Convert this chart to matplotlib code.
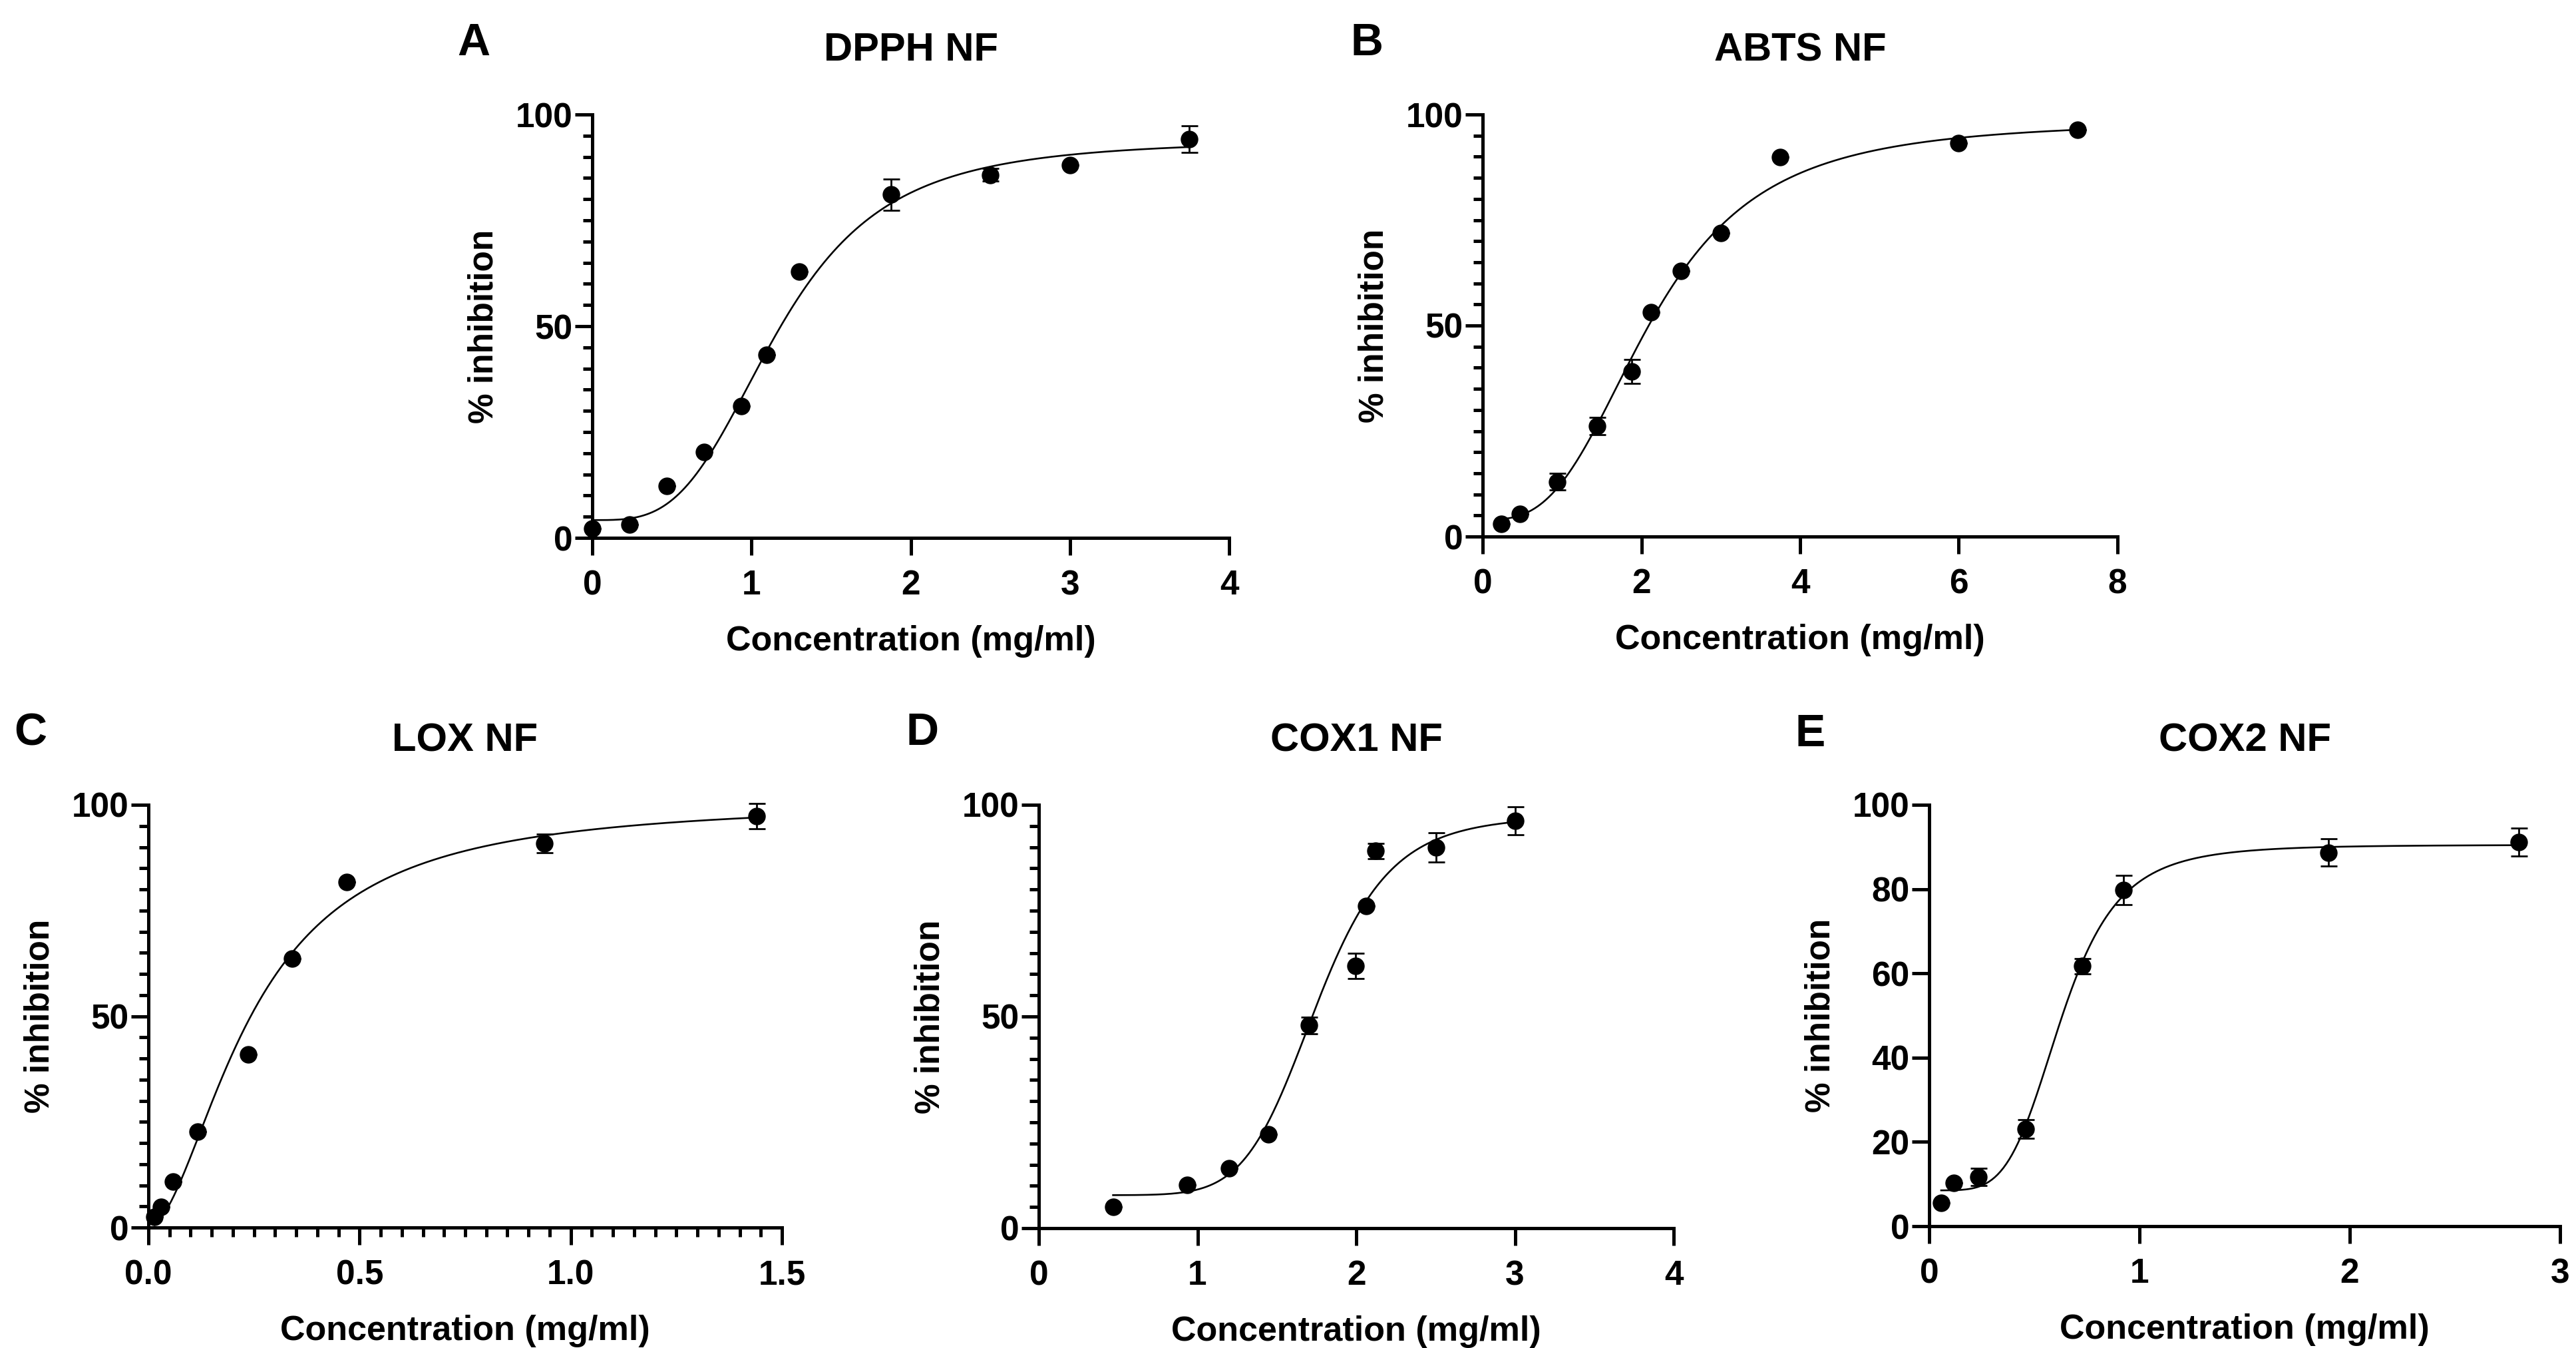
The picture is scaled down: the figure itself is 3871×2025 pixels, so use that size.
import matplotlib
matplotlib.use("Agg")
import matplotlib.pyplot as plt
import numpy as np
from matplotlib.ticker import MultipleLocator, FormatStrFormatter

plt.rcParams["font.family"] = ["Liberation Sans", "DejaVu Sans"]
plt.rcParams["font.weight"] = "bold"

# ---- data (mean, SEM) ----
dpph_x = [0, 0.234, 0.469, 0.703, 0.938, 1.094, 1.3, 1.875, 2.5, 3.0, 3.75]
dpph_y = [2.2, 3.2, 12.3, 20.3, 31.2, 43.2, 62.9, 81.1, 85.7, 88.0, 94.2]
dpph_err = [0, 0, 0, 0, 0, 0, 0, 3.7, 1.5, 0, 3.1]
dpph_fit = [4.2, 94.0, 1.17, 3.4]  # bottom, top, EC50, hill

abts_x = [0.234, 0.469, 0.938, 1.44, 1.875, 2.12, 2.5, 3.0, 3.75, 6.0, 7.5]
abts_y = [3.0, 5.4, 13.0, 26.2, 39.1, 53.2, 62.9, 72.0, 89.9, 93.2, 96.3]
abts_err = [0, 0, 2.0, 2.0, 2.8, 0, 0, 0, 0, 0, 0]
abts_fit = [4.0, 98.5, 2.13, 3.0]

lox_x = [0.0146, 0.0293, 0.0586, 0.117, 0.237, 0.34, 0.469, 0.9375, 1.44]
lox_y = [2.5, 4.9, 10.8, 22.7, 40.9, 63.7, 81.8, 90.9, 97.3]
lox_err = [0, 0, 0, 0, 0, 0, 0, 2.2, 3.0]
lox_fit = [0.0, 101.0, 0.245, 1.8]

cox1_x = [0.468, 0.936, 1.198, 1.446, 1.701, 1.995, 2.061, 2.12, 2.505, 3.0]
cox1_y = [5.1, 10.2, 14.2, 22.2, 47.9, 61.9, 76.1, 89.1, 89.9, 96.3]
cox1_err = [0, 0, 0, 0, 2.0, 3.0, 0, 1.8, 3.5, 3.3]
cox1_fit = [7.8, 97.5, 1.75, 7.5]

cox2_x = [0.057, 0.117, 0.234, 0.458, 0.728, 0.923, 1.90, 2.805]
cox2_y = [5.6, 10.2, 11.7, 23.0, 61.7, 79.8, 88.7, 91.2]
cox2_err = [0, 0, 2.0, 2.2, 1.8, 3.5, 3.2, 3.3]
cox2_fit = [8.5, 90.5, 0.63, 4.6]

titles = ["DPPH NF", "ABTS NF", "LOX NF", "COX1 NF", "COX2 NF"]
letters = ["A", "B", "C", "D", "E"]


def hill(x, p):
    b, t, ec, h = p
    return b + (t - b) * x ** h / (ec ** h + x ** h)


W, H = 3871, 2025
fig = plt.figure(figsize=(W / 100, H / 100), dpi=100)

# left, right, top, bottom in pixels, letter position, x range, x step, x minor, y step, y minor, x format
panels = [
    (dpph_x, dpph_y, dpph_err, dpph_fit, (890, 1847, 172, 808), (687, 83), 4, 1, None, 50, 5, "%d"),
    (abts_x, abts_y, abts_err, abts_fit, (2228, 3182, 172, 806), (2029, 83), 8, 2, None, 50, 5, "%d"),
    (lox_x, lox_y, lox_err, lox_fit, (223, 1175, 1209, 1844), (21, 1119), 1.5, 0.5, 0.05, 50, 5, "%.1f"),
    (cox1_x, cox1_y, cox1_err, cox1_fit, (1561, 2515, 1209, 1845), (1362, 1119), 4, 1, None, 50, 5, "%d"),
    (cox2_x, cox2_y, cox2_err, cox2_fit, (2899, 3847, 1209, 1842), (2698, 1121), 3, 1, None, 20, None, "%d"),
]

for i, (x, y, err, fit, box, lpos, xmax, xstep, xminor, ystep, yminor, xfmt) in enumerate(panels):
    l, r, t, b = box
    ax = fig.add_axes([l / W, 1 - b / H, (r - l) / W, (b - t) / H])

    xs = np.linspace(min(x), max(x), 400)
    ax.plot(xs, hill(xs, fit), color="black", lw=1.9, zorder=2)
    ax.errorbar(x, y, yerr=err, fmt="o", color="black", ms=18, capsize=9,
                elinewidth=2, capthick=2, clip_on=False, zorder=3)

    ax.set_xlim(0, xmax)
    ax.set_ylim(0, 100)
    ax.xaxis.set_major_locator(MultipleLocator(xstep))
    ax.xaxis.set_major_formatter(FormatStrFormatter(xfmt))
    ax.yaxis.set_major_locator(MultipleLocator(ystep))
    if xminor:
        ax.xaxis.set_minor_locator(MultipleLocator(xminor))
    if yminor:
        ax.yaxis.set_minor_locator(MultipleLocator(yminor))

    for s in ["top", "right"]:
        ax.spines[s].set_visible(False)
    for s in ["left", "bottom"]:
        ax.spines[s].set_linewidth(3.6)

    ax.tick_params(which="major", length=19, width=3.6, labelsize=37)
    ax.tick_params(which="minor", length=10, width=3.6)
    ax.tick_params(axis="y", which="major", pad=2)
    ax.tick_params(axis="x", which="major", pad=15)
    for lab in ax.get_xticklabels() + ax.get_yticklabels():
        lab.set_fontweight("bold")

    ax.set_xlabel("Concentration (mg/ml)", fontsize=37.5, fontweight="bold", labelpad=25)
    ax.set_ylabel("% inhibition", fontsize=37, fontweight="bold", labelpad=17)
    ax.set_title(titles[i], fontsize=43, fontweight="bold", pad=58)

    fig.text(lpos[0] / W, 1 - lpos[1] / H, letters[i], fontsize=49,
             fontweight="bold", ha="left", va="baseline")

fig.savefig("out.png", dpi=100, facecolor="white")
